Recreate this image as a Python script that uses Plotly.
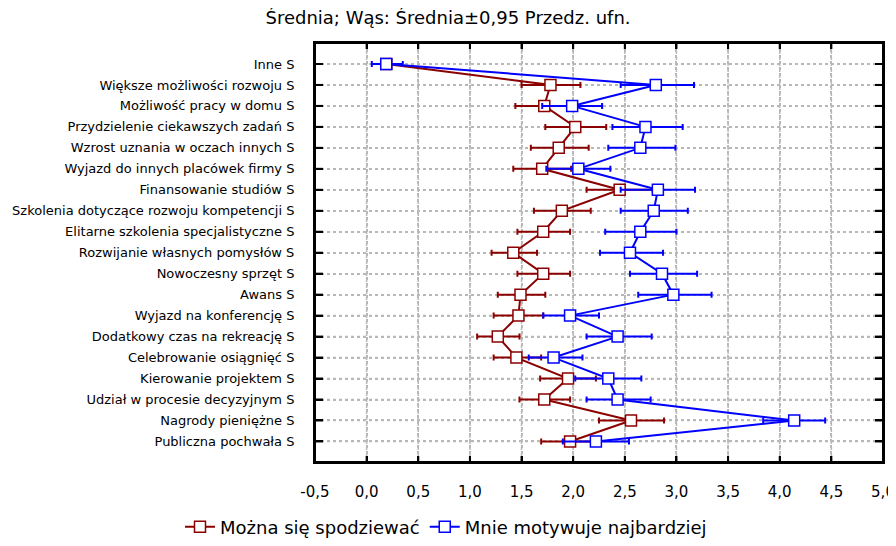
import plotly.graph_objects as go

# categories, top to bottom
categories = [
    "Inne S",
    "Większe możliwości rozwoju S",
    "Możliwość pracy w domu S",
    "Przydzielenie ciekawszych zadań S",
    "Wzrost uznania w oczach innych S",
    "Wyjazd do innych placówek firmy S",
    "Finansowanie studiów S",
    "Szkolenia dotyczące rozwoju kompetencji S",
    "Elitarne szkolenia specjalistyczne S",
    "Rozwijanie własnych pomysłów S",
    "Nowoczesny sprzęt S",
    "Awans S",
    "Wyjazd na konferencję S",
    "Dodatkowy czas na rekreację S",
    "Celebrowanie osiągnięć S",
    "Kierowanie projektem S",
    "Udział w procesie decyzyjnym S",
    "Nagrody pieniężne S",
    "Publiczna pochwała S",
]

# "Można się spodziewać": mean and 95% CI
red_mean = [0.19, 1.78, 1.72, 2.02, 1.86, 1.70, 2.45, 1.89, 1.71, 1.42, 1.71, 1.49,
            1.47, 1.27, 1.45, 1.95, 1.72, 2.56, 1.97]
red_low = [0.19, 1.50, 1.44, 1.73, 1.59, 1.42, 2.13, 1.62, 1.46, 1.21, 1.46, 1.27,
           1.23, 1.07, 1.23, 1.68, 1.48, 2.25, 1.69]
red_high = [0.19, 2.07, 2.00, 2.32, 2.15, 1.98, 2.77, 2.17, 1.97, 1.65, 1.97, 1.73,
            1.71, 1.48, 1.69, 2.22, 1.97, 2.88, 2.25]

# "Mnie motywuje najbardziej": mean and 95% CI
blue_mean = [0.19, 2.80, 1.99, 2.70, 2.65, 2.05, 2.82, 2.78, 2.65, 2.55, 2.86, 2.97,
             1.97, 2.43, 1.81, 2.34, 2.43, 4.14, 2.22]
blue_low = [0.05, 2.46, 1.70, 2.38, 2.34, 1.74, 2.46, 2.46, 2.31, 2.26, 2.55, 2.63,
            1.71, 2.13, 1.57, 2.02, 2.13, 3.84, 1.90]
blue_high = [0.35, 3.17, 2.28, 3.06, 2.99, 2.36, 3.18, 3.11, 3.00, 2.87, 3.20, 3.34,
             2.25, 2.76, 2.09, 2.66, 2.75, 4.44, 2.54]

x_ticks = [-0.5, 0.0, 0.5, 1.0, 1.5, 2.0, 2.5, 3.0, 3.5, 4.0, 4.5, 5.0]
x_labels = ["-0,5", "0,0", "0,5", "1,0", "1,5", "2,0", "2,5", "3,0", "3,5", "4,0", "4,5", "5,0"]

FONT = "DejaVu Sans, Arial, sans-serif"
GRID = dict(color="#b8b8b8", width=1.5, dash="dot")
TICK = dict(color="black", width=2)
FRAME = dict(color="black", width=2)

# the page body keeps its 8px margin, so the figure is laid out 8px up/left
W, H = 888, 538


def series(name, mean, low, high, color):
    return go.Scatter(
        x=mean,
        y=categories,
        name=name,
        mode="lines+markers",
        line=dict(color=color, width=2),
        marker=dict(symbol="square", size=11, color="white",
                    line=dict(color=color, width=1.5)),
        error_x=dict(
            type="data",
            symmetric=False,
            array=[h - m for h, m in zip(high, mean)],
            arrayminus=[m - lo for m, lo in zip(mean, low)],
            color=color,
            thickness=2,
            width=3,
        ),
    )


fig = go.Figure([
    series("Można się spodziewać", red_mean, red_low, red_high, "#8b0000"),
    series("Mnie motywuje najbardziej", blue_mean, blue_low, blue_high, "#0000ff"),
])

# grid and inside ticks also drawn as shapes, so they show even if the
# axis grid is not painted
for v in x_ticks:
    fig.add_shape(type="line", xref="x", yref="paper", x0=v, x1=v, y0=0, y1=1,
                  line=GRID, layer="below")
    fig.add_shape(type="line", xref="x", yref="paper", x0=v, x1=v,
                  ysizemode="pixel", yanchor=0, y0=0, y1=6, line=TICK, layer="above")
    fig.add_shape(type="line", xref="x", yref="paper", x0=v, x1=v,
                  ysizemode="pixel", yanchor=1, y0=0, y1=-6, line=TICK, layer="above")
for c in categories:
    fig.add_shape(type="line", xref="paper", yref="y", x0=0, x1=1, y0=c, y1=c,
                  line=GRID, layer="below")
    fig.add_shape(type="line", xref="paper", yref="y", y0=c, y1=c,
                  xsizemode="pixel", xanchor=0, x0=0, x1=8, line=TICK, layer="above")
    fig.add_shape(type="line", xref="paper", yref="y", y0=c, y1=c,
                  xsizemode="pixel", xanchor=1, x0=0, x1=-8, line=TICK, layer="above")

# frame round the plot area
for x0, y0, x1, y1 in [(0, 0, 1, 0), (0, 1, 1, 1), (0, 0, 0, 1), (1, 0, 1, 1)]:
    fig.add_shape(type="line", xref="paper", yref="paper", x0=x0, y0=y0, x1=x1, y1=y1,
                  line=FRAME, layer="above")

axis_common = dict(
    showline=True, linecolor="black", linewidth=2, mirror="allticks",
    ticks="inside", tickcolor="black", tickwidth=2,
    showgrid=True, gridcolor="#b8b8b8", griddash="dot", gridwidth=1.5,
    zeroline=False, automargin=False,
)

fig.update_xaxes(
    range=[-0.5, 5.0], tickvals=x_ticks, ticktext=x_labels,
    tickfont=dict(family=FONT, size=15, color="black"),
    ticklabelstandoff=15, ticklen=6,
    **axis_common,
)
fig.update_yaxes(
    type="category", range=[18.98, -1.0],
    tickfont=dict(family=FONT, size=13, color="black"),
    ticklabelstandoff=16, ticklen=8,
    **axis_common,
)

fig.update_layout(
    template="none",
    width=W, height=H,
    margin=dict(l=307, r=13, t=35, b=84, autoexpand=False),
    paper_bgcolor="white", plot_bgcolor="white",
    title=dict(text="Średnia; Wąs: Średnia±0,95 Przedz. ufn.",
               xref="container", x=440 / W, xanchor="center",
               yref="container", y=1 - 10 / H, yanchor="middle",
               font=dict(family=FONT, size=18, color="black")),
    legend=dict(orientation="h", xref="container", x=438 / W, xanchor="center",
                yref="container", y=1 - 519 / H, yanchor="middle",
                font=dict(family=FONT, size=18, color="black"),
                itemwidth=30, tracegroupgap=0, bgcolor="rgba(0,0,0,0)"),
    showlegend=True,
)

fig.write_html("out.html", config={"displayModeBar": False})
